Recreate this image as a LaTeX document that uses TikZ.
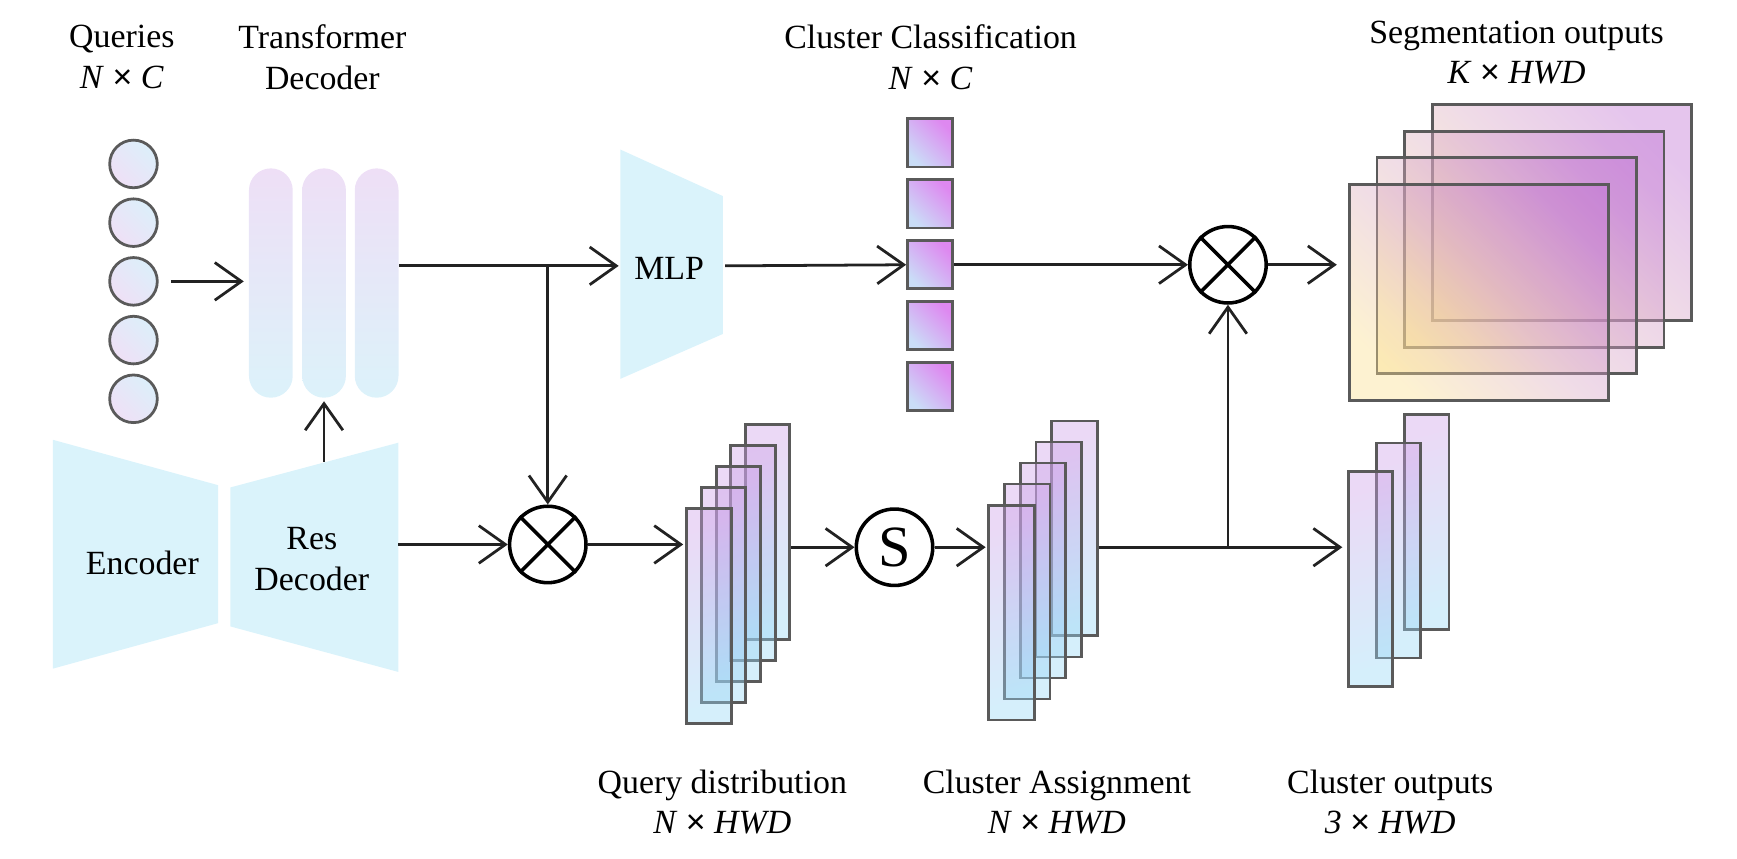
\documentclass[tikz,border=0pt]{standalone}
\usepackage{fontspec}
\setmainfont{Liberation Serif}
\setsansfont{Liberation Sans}
\usepackage{tikz}
\usetikzlibrary{positioning, arrows.meta}
\usepackage{xcolor}

\definecolor{lineblack}{HTML}{222222}
\definecolor{rimgray}{HTML}{5A5A5A}
\definecolor{netcyan}{HTML}{DAF3FB}
\definecolor{pilltop}{HTML}{EEDFF6}
\definecolor{pillbot}{HTML}{DCF2FA}
\definecolor{querytop}{HTML}{DCEFFA}
\definecolor{querybot}{HTML}{EFE0F6}
\definecolor{clstop}{HTML}{DE88F0}
\definecolor{clsbot}{HTML}{CADDF7}
\definecolor{stacktop}{RGB}{205,160,232}
\definecolor{stackbot}{RGB}{150,215,245}
\definecolor{segtop}{RGB}{190,110,210}
\definecolor{segmid}{RGB}{217,167,195}
\definecolor{segbot}{RGB}{250,222,140}

\newcommand{\dimsz}[2]{\textit{#1} {\sffamily\symbol{"00D7}} \textit{#2}}

\begin{document}
\begin{tikzpicture}[x=0.1mm, y=-0.1mm,
        font=\fontsize{8.7}{10.4}\selectfont,
        lbl/.style={align=center, inner sep=0pt},
        arr/.style={draw=lineblack, line width=0.25mm, -{Straight Barb[length=2.4mm, width=3.4mm]}},
        query/.style={circle, draw=rimgray, line width=0.25mm, minimum size=4.3mm, inner sep=0pt,
            top color=querytop, bottom color=querybot, shading angle=-45},
        pill/.style={rectangle, rounded corners=1.97mm, minimum width=3.95mm, minimum height=20.7mm,
            top color=pilltop, bottom color=pillbot},
        cls/.style={rectangle, draw=rimgray, line width=0.25mm, minimum width=4.05mm, minimum height=4.35mm,
            top color=clstop, bottom color=clsbot, shading angle=-45},
        stackbox/.style={rectangle, draw=rimgray, line width=0.25mm, minimum width=4mm, minimum height=19.4mm,
            top color=stacktop, bottom color=stackbot, shading angle=15, fill opacity=0.4},
        segbox/.style={rectangle, draw=rimgray, line width=0.25mm, minimum width=23.4mm, minimum height=19.5mm,
            top color=segtop, bottom color=segbot, middle color=segmid, shading angle=-45, fill opacity=0.4},
        mul/.style={circle, draw=black, line width=0.32mm, minimum size=6.9mm, inner sep=0pt}
    ]
    \useasboundingbox (0,0) rectangle (1568,775.4);

    % queries and transformer decoder
    \foreach \i in {1,...,5}
        \node[query] (q\i) at (120.5, {148+53*(\i-1)}) {};
    \foreach \i/\x in {1/244.5, 2/292.5, 3/340}
        \node[pill] (dec\i) at (\x,255.5) {};

    % encoder, res decoder, mlp
    \fill[netcyan] (47.7,397) -- (197,438) -- (197,562.5) -- (47.7,603.6) -- cycle;
    \fill[netcyan] (208,440) -- (359.7,399.6) -- (359.7,606.6) -- (208,565.5) -- cycle;
    \fill[netcyan] (560,135) -- (652.5,177) -- (652.5,301.5) -- (560,342) -- cycle;
    \node (enc) at (128.5,508) {Encoder};
    \node[lbl] (resdec) at (281.5,504.5) {Res\\Decoder};
    \node (mlp) at (604,242) {MLP};
    \coordinate (mlpin) at (560,240);
    \coordinate (mlpout) at (654.5,240);
    \coordinate (rdtop) at (292.5,417);
    \coordinate (rdout) at (359.7,491.5);

    % cluster classification
    \foreach \i in {1,...,5}
        \node[cls] (cls\i) at (839.5, {129+55*(\i-1)}) {};

    % products and softmax
    \node[mul] (mul1) at (494.5,491.5) {};
    \node[mul] (mul2) at (1108.5,239) {};
    \foreach \m in {mul1, mul2}
        \draw[line width=0.32mm] (\m.45) -- (\m.225) (\m.135) -- (\m.315);
    \node[mul, font=\fontsize{15}{15}\selectfont] (sig) at (807.5,494) {S};

    % stacks
    \foreach \i in {5,...,1}
        \node[stackbox] (qd\i) at ({640+13.25*(\i-1)}, {556-19*(\i-1)}) {};
    \foreach \i in {5,...,1}
        \node[stackbox, minimum width=4.1mm] (ca\i) at ({913+14.25*(\i-1)}, {553-19*(\i-1)}) {};
    \foreach \i in {3,2,1}
        \node[stackbox] (co\i) at ({1237+25.5*(\i-1)}, {522.5-25.5*(\i-1)}) {};
    \foreach \i in {4,3,2,1}
        \node[segbox] (se\i) at ({1335+25*(\i-1)}, {264-24*(\i-1)}) {};

    % labels
    \node[lbl] (querylbl) at (110,51.5) {Queries\\\dimsz{N}{C}};
    \node[lbl] (declbl) at (291,51.5) {Transformer\\Decoder};
    \node[lbl] (clslbl) at (840,51.5) {Cluster Classification\\\dimsz{N}{C}};
    \node[lbl] (seglbl) at (1369,47.5) {Segmentation outputs\\\dimsz{K}{HWD}};
    \node[lbl] (qdlbl) at (652,724) {Query distribution\\\dimsz{N}{HWD}};
    \node[lbl] (calbl) at (954,724) {Cluster Assignment\\\dimsz{N}{HWD}};
    \node[lbl] (colbl) at (1255,724) {Cluster outputs\\\dimsz{3}{HWD}};

    % connectors
    \coordinate (br1) at (mul1 |- mlpin);
    \coordinate (br2) at (mul2 |- sig);
    \draw[arr, shorten <=1.1mm, shorten >=0.4mm] (q3.east) -- (q3.east -| dec1.west);
    \draw[arr, shorten >=0.15mm] (dec3.east |- mlpin) -- (mlpin);
    \draw[arr] (br1) -- (mul1.north);
    \draw[arr, shorten >=0.25mm] (rdtop) -- (dec2.south);
    \draw[arr] (rdout) -- (mul1.west);
    \draw[arr, shorten >=0.2mm] (mul1.east) -- (mul1.east -| qd1.west);
    \draw[arr] (qd5.east |- sig) -- (sig.west);
    \draw[arr, shorten >=0.15mm] (sig.east) -- (sig.east -| ca1.west);
    \draw[arr, shorten >=0.4mm] (ca5.east |- sig) -- (co1.west |- sig);
    \draw[arr] (br2) -- (mul2.south);
    \draw[arr] (mlpout) -- (cls3.west);
    \draw[arr] (cls3.east) -- (mul2.west);
    \draw[arr, shorten >=1mm] (mul2.east) -- (mul2.east -| se1.west);
\end{tikzpicture}
\end{document}
